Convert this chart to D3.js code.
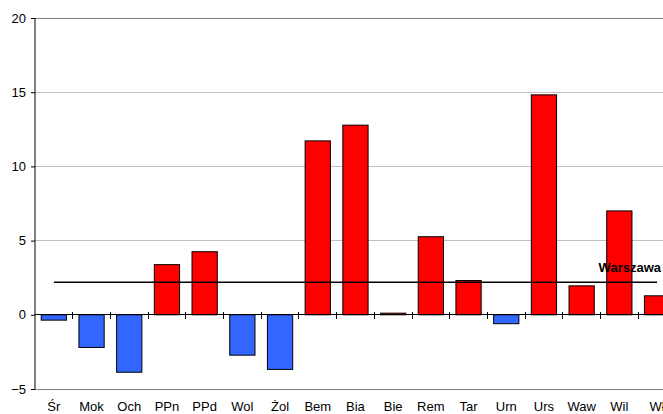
<!DOCTYPE html>
<html><head><meta charset="utf-8">
<script src="https://cdn.jsdelivr.net/npm/d3@7"></script>
<style>html,body{margin:0;padding:0;background:#fff;overflow:hidden}svg{display:block;font-family:"Liberation Sans",Arial,sans-serif}</style>
</head><body><svg id="c" width="663" height="414"></svg>
<script>
const categories = ["Śr","Mok","Och","PPn","PPd","Wol","Żol","Bem","Bia","Bie","Rem","Tar","Urn","Urs","Waw","Wil","Wł"];
const values = [-0.36,-2.2,-3.87,3.38,4.25,-2.72,-3.68,11.72,12.78,0.11,5.26,2.31,-0.6,14.82,1.95,7.0,1.28];
const warszawa = 2.2;
const warszawaLabel = "Warszawa";
const yTicks = [-5,0,5,10,15,20];

const svg = d3.select("#c");
const x = d3.scaleBand().domain(categories).range([35, 35 + 17*37.7]).paddingInner(0.33).paddingOuter(0.165);
const y = d3.scaleLinear().domain([-5,20]).range([389,18]);

// gridlines
svg.append("g").selectAll("line").data(yTicks).join("line")
  .attr("x1",35).attr("x2",663)
  .attr("y1",d=>y(d)).attr("y2",d=>y(d))
  .attr("stroke",d=>(d===20||d===-5)?"#808080":"#c0c0c0").attr("stroke-width",1)
  .attr("shape-rendering","crispEdges");

// bars
svg.append("g").selectAll("rect").data(values).join("rect")
  .attr("x",(d,i)=>x(categories[i]))
  .attr("width",x.bandwidth())
  .attr("y",d=>y(Math.max(0,d)))
  .attr("height",d=>Math.abs(y(d)-y(0)))
  .attr("fill",d=>d>=0?"#ff0000":"#3366ff")
  .attr("stroke","#000").attr("stroke-width",1);

// x axis at zero
const step = x.step();
const xa = svg.append("g");
xa.append("line").attr("x1",35).attr("x2",663).attr("y1",y(0)).attr("y2",y(0)).attr("stroke","#000").attr("shape-rendering","crispEdges");
xa.selectAll("line.t").data(d3.range(1,18)).join("line").attr("class","t")
  .attr("x1",i=>35+i*step).attr("x2",i=>35+i*step)
  .attr("y1",y(0)-3).attr("y2",y(0)+4).attr("stroke","#000").attr("shape-rendering","crispEdges");
xa.selectAll("text").data(categories).join("text")
  .attr("x",d=>x(d)+x.bandwidth()/2).attr("y",411)
  .attr("text-anchor","middle").attr("font-size",13).attr("fill","#000").text(d=>d);

// y axis
const ya = svg.append("g").attr("transform","translate(35,0)")
  .call(d3.axisLeft(y).tickValues(yTicks).tickSize(4).tickPadding(5).tickFormat(d3.format("d")));
ya.select(".domain").attr("stroke","#000").attr("d","M0,"+y(20)+"V"+y(-5));
ya.selectAll(".tick line").attr("stroke","#000");
ya.selectAll("text").attr("font-size",13).attr("font-family","Liberation Sans, Arial, sans-serif").attr("fill","#000");

// Warszawa line
const xs = x(categories[0])+x.bandwidth()/2, xe = x(categories[categories.length-1])+x.bandwidth()/2;
svg.append("line").attr("x1",xs).attr("x2",xe).attr("y1",y(warszawa)).attr("y2",y(warszawa))
  .attr("stroke","#000").attr("stroke-width",1.5);
svg.append("text").attr("x",661).attr("y",y(warszawa)-10).attr("text-anchor","end")
  .attr("font-size",13).attr("font-weight","bold").attr("fill","#000").text(warszawaLabel);
</script></body></html>
